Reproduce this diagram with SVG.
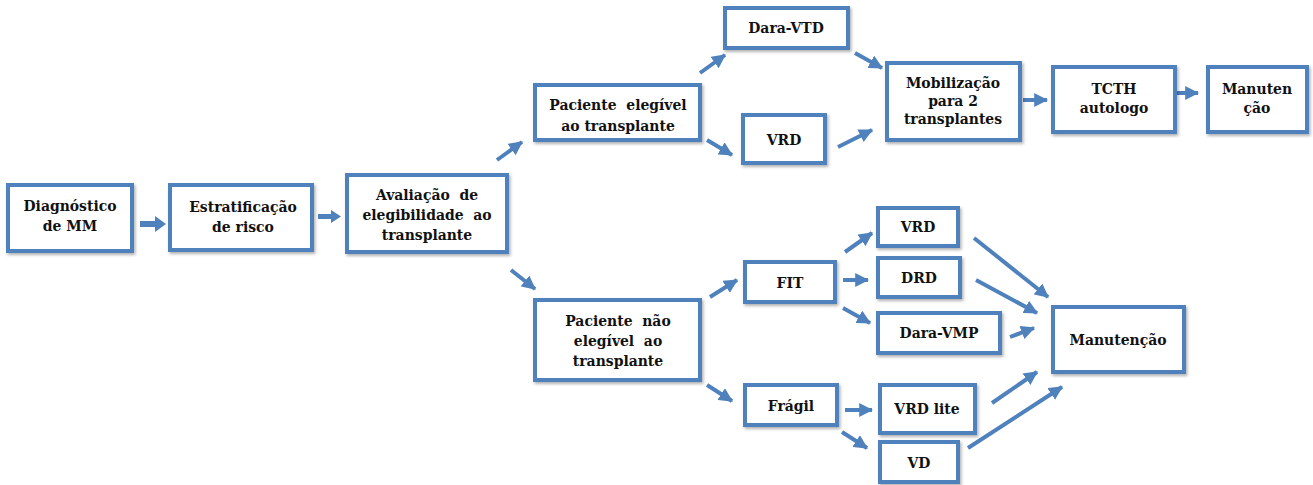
<svg xmlns="http://www.w3.org/2000/svg" width="1313" height="485" viewBox="0 0 1313 485">
<defs>
<style>
.box{fill:#ffffff;stroke:#4F81BD;stroke-width:4;filter:url(#sh)}
.t{font-family:"DejaVu Serif Condensed","DejaVu Serif",serif;font-stretch:condensed;font-weight:bold;font-size:15.5px;fill:#111;text-anchor:middle;white-space:pre}
.c{stroke:#4F81BD;stroke-width:4;fill:none;marker-end:url(#ah)}
</style>
<filter id="sh" x="-10%" y="-10%" width="125%" height="130%">
<feDropShadow dx="1.5" dy="2" stdDeviation="1.5" flood-color="#000" flood-opacity="0.3"/>
</filter>
<marker id="ah" markerUnits="userSpaceOnUse" markerWidth="14" markerHeight="14" refX="11" refY="6" orient="auto" viewBox="0 0 12 12">
<path d="M0,0 L12,6 L0,12 Z" fill="#4F81BD"/>
</marker>
<clipPath id="cp4"><rect x="535" y="85" width="165" height="53"/></clipPath>
</defs>

<g id="connectors">
<path d="M140,221 H155 V216 L166,224 L155,232 V227 H140 Z" fill="#4F81BD"/>
<path d="M318,214 H331 V210 L341,216.5 L331,223 V219 H318 Z" fill="#4F81BD"/>
<line class="c" x1="497" y1="160" x2="522" y2="142"/>
<line class="c" x1="511" y1="270" x2="535" y2="289"/>
<line class="c" x1="700" y1="73" x2="725" y2="55"/>
<line class="c" x1="707" y1="140" x2="732" y2="155"/>
<line class="c" x1="855" y1="53" x2="882" y2="68"/>
<line class="c" x1="838" y1="147" x2="872" y2="130"/>
<line class="c" x1="1023" y1="100" x2="1047" y2="100"/>
<line class="c" x1="1173" y1="93" x2="1198" y2="93"/>
<line class="c" x1="710" y1="297" x2="737" y2="280"/>
<line class="c" x1="845" y1="252" x2="872" y2="233"/>
<line class="c" x1="843" y1="280" x2="868" y2="280"/>
<line class="c" x1="843" y1="308" x2="870" y2="323"/>
<line class="c" x1="707" y1="385" x2="732" y2="401"/>
<line class="c" x1="845" y1="410" x2="872" y2="410"/>
<line class="c" x1="842" y1="432" x2="867" y2="448"/>
<line class="c" x1="974" y1="238" x2="1048" y2="297"/>
<line class="c" x1="976" y1="280" x2="1037" y2="313"/>
<line class="c" x1="1010" y1="337" x2="1034" y2="328"/>
<line class="c" x1="992" y1="403" x2="1037" y2="372"/>
<line class="c" x1="968" y1="448" x2="1062" y2="387"/>
</g>

<g id="n1"><rect class="box" x="8" y="185" width="124" height="66"/>
<text class="t" x="70" y="211">Diagnóstico</text><text class="t" x="70" y="231">de MM</text></g>
<g id="n2"><rect class="box" x="170" y="185" width="142" height="65"/>
<text class="t" x="243" y="212">Estratificação</text><text class="t" x="243" y="232">de risco</text></g>
<g id="n3"><rect class="box" x="347" y="175" width="160" height="77"/>
<text class="t" x="427" y="200">Avaliação  de</text><text class="t" x="427" y="220">elegibilidade  ao</text><text class="t" x="427" y="240">transplante</text></g>
<g id="n4"><rect class="box" x="535" y="85" width="165" height="55"/>
<g clip-path="url(#cp4)"><text class="t" x="618" y="110">Paciente  elegível</text><text class="t" x="618" y="131">ao transplante</text></g></g>
<g id="n5"><rect class="box" x="725" y="8" width="123" height="40"/>
<text class="t" x="786" y="33">Dara-VTD</text></g>
<g id="n6"><rect class="box" x="743" y="115" width="82" height="48"/>
<text class="t" x="784" y="145">VRD</text></g>
<g id="n7"><rect class="box" x="887" y="63" width="133" height="77"/>
<text class="t" x="953" y="88">Mobilização</text><text class="t" x="953" y="106">para 2</text><text class="t" x="953" y="124">transplantes</text></g>
<g id="n8"><rect class="box" x="1053" y="67" width="122" height="65"/>
<text class="t" x="1114" y="94">TCTH</text><text class="t" x="1114" y="113">autologo</text></g>
<g id="n9"><rect class="box" x="1208" y="67" width="99" height="65"/>
<text class="t" x="1257" y="94">Manuten</text><text class="t" x="1257" y="113">ção</text></g>
<g id="n10"><rect class="box" x="535" y="300" width="165" height="80"/>
<text class="t" x="618" y="326">Paciente  não</text><text class="t" x="618" y="346">elegível  ao</text><text class="t" x="618" y="366">transplante</text></g>
<g id="n11"><rect class="box" x="745" y="262" width="90" height="40"/>
<text class="t" x="790" y="288">FIT</text></g>
<g id="n12"><rect class="box" x="878" y="208" width="80" height="38"/>
<text class="t" x="918" y="232">VRD</text></g>
<g id="n13"><rect class="box" x="878" y="258" width="82" height="39"/>
<text class="t" x="919" y="283">DRD</text></g>
<g id="n14"><rect class="box" x="878" y="313" width="122" height="40"/>
<text class="t" x="939" y="338">Dara-VMP</text></g>
<g id="n15"><rect class="box" x="745" y="385" width="92" height="40"/>
<text class="t" x="791" y="411">Frágil</text></g>
<g id="n16"><rect class="box" x="880" y="385" width="95" height="48"/>
<text class="t" x="927" y="414">VRD lite</text></g>
<g id="n17"><rect class="box" x="880" y="442" width="78" height="40"/>
<text class="t" x="919" y="468">VD</text></g>
<g id="n18"><rect class="box" x="1053" y="307" width="131" height="65"/>
<text class="t" x="1118" y="345">Manutenção</text></g>
</svg>
